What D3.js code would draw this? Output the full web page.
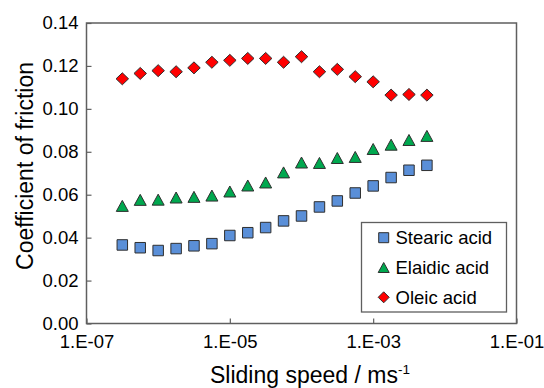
<!DOCTYPE html>
<html>
<head>
<meta charset="utf-8">
<script src="https://cdn.jsdelivr.net/npm/d3@7"></script>
<style>
html,body{margin:0;padding:0;background:#fff;}
svg{display:block;}
text{font-family:Arial,"Liberation Sans",sans-serif;fill:#000;}
</style>
</head>
<body>
<svg id="chart" width="544" height="388"></svg>
<script>
// Data
const speeds = [3.16e-7, 5.62e-7, 1e-6, 1.78e-6, 3.16e-6, 5.62e-6, 1e-5, 1.78e-5, 3.16e-5,
                5.62e-5, 1e-4, 1.78e-4, 3.16e-4, 5.62e-4, 1e-3, 1.78e-3, 3.16e-3, 5.62e-3];
const stearic = [0.0366, 0.0353, 0.0340, 0.0349, 0.0362, 0.0372, 0.0410, 0.0423, 0.0447,
                 0.0478, 0.0501, 0.0543, 0.0571, 0.0608, 0.0641, 0.0680, 0.0714, 0.0737];
const elaidic = [0.0548, 0.0576, 0.0577, 0.0587, 0.0590, 0.0596, 0.0615, 0.0643, 0.0657,
                 0.0704, 0.0750, 0.0748, 0.0771, 0.0776, 0.0813, 0.0833, 0.0855, 0.0874];
const oleic   = [0.1140, 0.1165, 0.1178, 0.1173, 0.1191, 0.1217, 0.1226, 0.1235, 0.1235,
                 0.1217, 0.1243, 0.1173, 0.1184, 0.1150, 0.1126, 0.1064, 0.1067, 0.1064];
const seriesNames = ["Stearic acid", "Elaidic acid", "Oleic acid"];
const xTicks = [1e-7, 1e-5, 1e-3, 1e-1];
const xTickLabels = ["1.E-07", "1.E-05", "1.E-03", "1.E-01"];
const yTicks = [0, 0.02, 0.04, 0.06, 0.08, 0.10, 0.12, 0.14];

const svg = d3.select("#chart");
const L = 86.5, R = 516.5, T = 23, B = 323.5;
const x = d3.scaleLog().domain([1e-7, 1e-1]).range([L, R]);
const y = d3.scaleLinear().domain([0, 0.14]).range([B, T]);

const frameColor = "#5f5f5f";
const fontFam = 'Arial,"Liberation Sans",sans-serif';

// axes
const xAxis = d3.axisBottom(x).tickValues(xTicks).tickSize(-5).tickPadding(11)
  .tickFormat((d, i) => xTickLabels[i]);
const gx = svg.append("g").attr("transform", `translate(0,${B})`).call(xAxis);
gx.select(".domain").remove();
gx.selectAll(".tick line").attr("stroke", frameColor).attr("stroke-width", 1.2);
gx.selectAll(".tick text").attr("font-size", 18.5).attr("fill", "#000").attr("font-family", fontFam);

const yAxis = d3.axisLeft(y).tickValues(yTicks).tickSize(-5).tickPadding(8)
  .tickFormat(d3.format(".2f"));
const gy = svg.append("g").attr("transform", `translate(${L},0)`).call(yAxis);
gy.select(".domain").remove();
gy.selectAll(".tick line").attr("stroke", frameColor).attr("stroke-width", 1.2);
gy.selectAll(".tick text").attr("font-size", 18.5).attr("fill", "#000").attr("font-family", fontFam);

// frame
svg.append("rect").attr("x", L).attr("y", T).attr("width", R - L).attr("height", B - T)
  .attr("fill", "none").attr("stroke", frameColor).attr("stroke-width", 1.5);

// marker shapes
function squarePath(s) { const h = s / 2; return `M${-h},${-h}H${h}V${h}H${-h}Z`; }
function trianglePath(w, hgt) { return `M0,${-hgt/2}L${w/2},${hgt/2}L${-w/2},${hgt/2}Z`; }
function diamondPath(w, hgt) { return `M0,${-hgt/2}L${w/2},0L0,${hgt/2}L${-w/2},0Z`; }

const series = [
  { name: seriesNames[0], values: stearic, fill: "#5a8fd8", path: squarePath(10.5), lpath: squarePath(10) },
  { name: seriesNames[1], values: elaidic, fill: "#00a84f", path: trianglePath(12, 11), lpath: trianglePath(11, 10) },
  { name: seriesNames[2], values: oleic,   fill: "#ff0000", path: diamondPath(12.5, 12), lpath: diamondPath(11, 11) }
];

series.slice().reverse().forEach(s => {
  svg.append("g").selectAll("path").data(s.values).join("path")
    .attr("d", s.path)
    .attr("transform", (d, i) => `translate(${x(speeds[i])},${y(d)})`)
    .attr("fill", s.fill).attr("stroke", "#2f2f2f").attr("stroke-width", 1);
});

// legend
const lg = svg.append("g");
lg.append("rect").attr("x", 361.5).attr("y", 222.5).attr("width", 145).attr("height", 89.5)
  .attr("fill", "#fff").attr("stroke", frameColor).attr("stroke-width", 1.3);
series.forEach((s, i) => {
  const cy = 237.7 + i * 29.8;
  lg.append("path").attr("d", s.lpath).attr("transform", `translate(383.7,${cy})`)
    .attr("fill", s.fill).attr("stroke", "#2f2f2f").attr("stroke-width", 1);
  lg.append("text").attr("x", 395.5).attr("y", cy).attr("dy", "0.35em")
    .attr("font-size", 18.5).text(s.name);
});

// axis titles
const xt = svg.append("text").attr("x", 310).attr("y", 383).attr("text-anchor", "middle")
  .attr("font-size", 23);
xt.append("tspan").text("Sliding speed / ms");
xt.append("tspan").attr("font-size", 13.5).attr("dy", -9).text("-1");

svg.append("text").attr("transform", "translate(33,166) rotate(-90)")
  .attr("text-anchor", "middle").attr("font-size", 23).text("Coefficient of friction");
</script>
</body>
</html>
